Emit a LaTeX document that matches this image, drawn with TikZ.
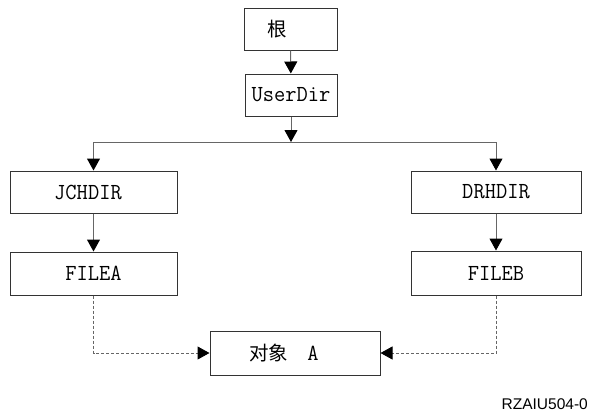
\documentclass[tikz,border=0pt]{standalone}
\usepackage{fontspec}
\usetikzlibrary{arrows.meta}
\newfontfamily\monof[FakeStretch=0.95]{Latin Modern Mono}
\newfontfamily\cjk{Noto Sans CJK SC}
\newfontfamily\labf{Liberation Sans}
\tikzset{
  box/.style={draw=black!80, line width=1pt, inner sep=0pt, anchor=center,
    font=\monof\fontsize{23}{26}\selectfont},
  conn/.style={draw=black!60, line width=1pt,
    -{Triangle[length=12pt,width=13pt,color=black]}},
  dconn/.style={conn, dash pattern=on 3pt off 2pt},
  plain/.style={draw=black!60, line width=1pt}
}
\begin{document}
\begin{tikzpicture}[x=1pt,y=-1pt]
\path[use as bounding box] (0,0) rectangle (589,413);
\node[box, minimum width=93pt, minimum height=42pt] (root) at (290.5,29)
  {{\cjk\fontsize{19.5}{22}\selectfont 根}\hspace*{26pt}};
\node[box, minimum width=92pt, minimum height=42pt] (user) at (291,95) {UserDir};
\node[box, minimum width=167pt, minimum height=42pt] (jch) at (93.5,192) {JCHDIR\hspace*{11pt}};
\node[box, minimum width=167pt, minimum height=43pt] (filea) at (93.5,273.5) {FILEA};
\node[box, minimum width=170pt, minimum height=42pt] (drh) at (496,192) {DRHDIR};
\node[box, minimum width=170pt, minimum height=44pt] (fileb) at (496,273) {FILEB};
\node[box, minimum width=170pt, minimum height=44pt] (obj) at (295,353)
  {{\cjk\fontsize{19.5}{22}\selectfont 对象}\hspace{19pt}A\hspace*{22pt}};
\coordinate (split) at (291,142);
\node[anchor=east, inner sep=0pt, font=\labf\fontsize{15.5}{18}\selectfont] (lab) at (588,404) {RZAIU504-0};

\draw[conn] (root) -- (user);
\draw[conn] (user) -- (split);
\draw[conn] (split) -| (jch);
\draw[conn] (split) -| (drh);
\draw[conn] (jch) -- (filea);
\draw[conn] (drh) -- (fileb);
\draw[dconn] (filea.south) |- (obj.west);
\draw[dconn] (fileb.south) |- (obj.east);
\end{tikzpicture}
\end{document}
